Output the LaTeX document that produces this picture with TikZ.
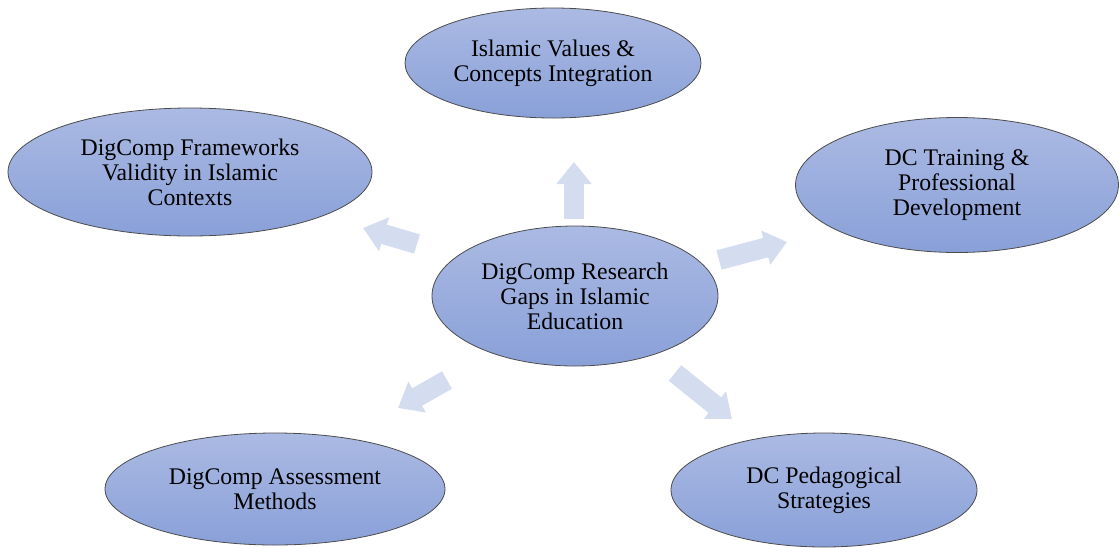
\documentclass[tikz,border=0pt]{standalone}
\usepackage{fontspec}
\setmainfont{Liberation Serif}
\usepackage{tikz}
\usetikzlibrary{positioning}
\usetikzlibrary{shapes.geometric}
\usetikzlibrary{arrows.meta}

\definecolor{ovaltop}{RGB}{171,186,227}
\definecolor{ovalbottom}{RGB}{137,160,216}
\definecolor{arrowfill}{RGB}{212,220,240}

\begin{document}
\begin{tikzpicture}[x=1pt, y=-1pt,
                oval/.style={ellipse, draw=black!70, line width=0.8pt, top color=ovaltop, bottom color=ovalbottom,
                             inner sep=0pt, align=center, font=\fontsize{23.8}{25}\selectfont},
                bigarrow/.style={draw=arrowfill, line width=20pt,
                                 -{Triangle[width=34pt, length=22pt, fill=arrowfill]}},
            ]
            \useasboundingbox (0,0) rectangle (1119,547);

            % Nodes
            \node[oval, minimum width=286pt, minimum height=140pt] (hub)      at (575,296) {DigComp Research\\Gaps in Islamic\\Education};

            \node[oval, minimum width=296pt, minimum height=110pt] (values)   at (553,63)  {Islamic Values \&\\Concepts Integration};
            \node[oval, minimum width=364pt, minimum height=128pt] (validity) at (190,172) {DigComp Frameworks\\Validity in Islamic\\Contexts};
            \node[oval, minimum width=323pt, minimum height=135pt] (training) at (957,185) {DC Training \&\\Professional\\Development};
            \node[oval, minimum width=340pt, minimum height=112pt] (assess)   at (275,489) {DigComp Assessment\\Methods};
            \node[oval, minimum width=306pt, minimum height=114pt] (pedagogy) at (824,490) {DC Pedagogical\\Strategies};

            % Arrow ends
            \coordinate (up_from)    at (574,219);
            \coordinate (up_to)      at (574,162);
            \coordinate (left_from)  at (417,244);
            \coordinate (left_to)    at (363,228);
            \coordinate (right_from) at (719,260);
            \coordinate (right_to)   at (787,242);
            \coordinate (dl_from)    at (447,380);
            \coordinate (dl_to)      at (398,408);
            \coordinate (dr_from)    at (675,373);
            \coordinate (dr_to)      at (732,419);

            %Arrows
            \draw[bigarrow] (up_from) -- (up_to);
            \draw[bigarrow] (left_from) -- (left_to);
            \draw[bigarrow] (right_from) -- (right_to);
            \draw[bigarrow] (dl_from) -- (dl_to);
            \draw[bigarrow] (dr_from) -- (dr_to);
\end{tikzpicture}
\end{document}
